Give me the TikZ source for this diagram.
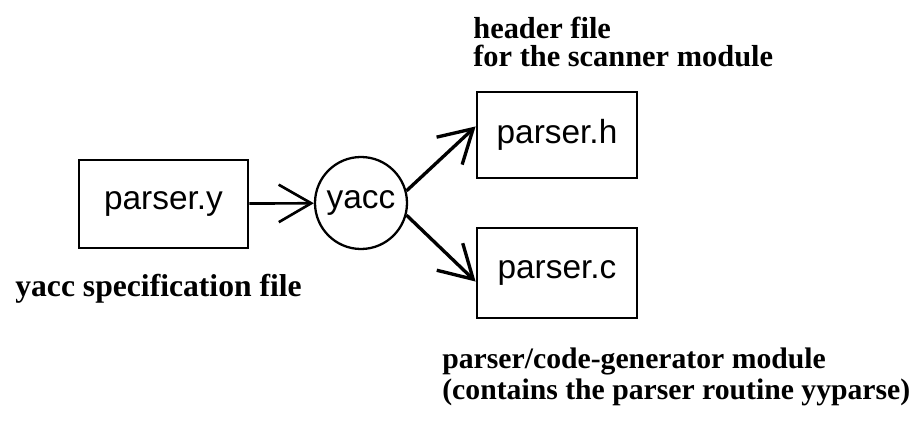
\documentclass[tikz,border=0pt]{standalone}
\usepackage{fontspec}
\setmainfont{Liberation Serif}
\setsansfont{Liberation Sans}
\usetikzlibrary{arrows.meta,shapes,positioning,calc}

\begin{document}
\begin{tikzpicture}[
  file/.style={draw,line width=1.6pt,inner sep=0pt,
    font=\sffamily\fontsize{19}{20}\selectfont},
  prog/.style={draw,circle,line width=1.3pt,inner sep=0pt,minimum size=1.84cm,
    font=\sffamily\fontsize{19}{20}\selectfont},
  note/.style={inner sep=0pt,align=left,anchor=base west},
  flow/.style={line width=1.9pt,-{Straight Barb[length=6.5mm,width=7.5mm]}}
]
\useasboundingbox (0,0) rectangle (18.44,8.46);

\draw (3.27,4.38) node[file,minimum width=3.38cm,minimum height=1.76cm] (pary) {parser.y};
\draw (7.22,4.40) node[prog] (yacc) {yacc};
\draw (11.14,5.76) node[file,minimum width=3.2cm,minimum height=1.72cm] (parh) {parser.h};
\draw (11.14,3.0) node[file,minimum width=3.2cm,minimum height=1.8cm] (parc) {parser.c};

% last line of each note sits on the given baseline
\draw (9.46,7.12) node[note,font=\bfseries\fontsize{17.3}{16}\selectfont] (hnote) {
header file\\
for the scanner module
};
\draw (0.3,2.52) node[note,font=\bfseries\fontsize{18}{18}\selectfont] (ynote) {yacc specification file};
\draw (8.84,0.46) node[note,font=\bfseries\fontsize{16.9}{18.2}\selectfont] (cnote) {
parser/code-generator module\\
(contains the parser routine yyparse)
};

\path[draw,flow,line width=1.5pt] (pary) -- (yacc);
\path[draw,flow] (yacc.15) -- (parh.174);
\path[draw,flow] (yacc.-15) -- (parc.186);

\end{tikzpicture}
\end{document}
